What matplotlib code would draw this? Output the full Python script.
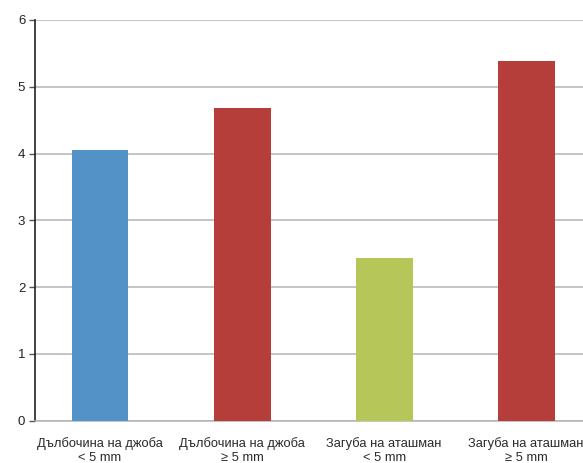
import matplotlib
matplotlib.use("Agg")
import matplotlib.pyplot as plt

categories = [
    "Дълбочина на джоба\n< 5 mm",
    "Дълбочина на джоба\n≥ 5 mm",
    "Загуба на аташман\n< 5 mm",
    "Загуба на аташман\n≥ 5 mm",
]
values = [4.05, 4.68, 2.44, 5.38]
colors = ["#5292c6", "#b53e3b", "#b6c659", "#b53e3b"]
yticks = [0, 1, 2, 3, 4, 5, 6]

plt.rcParams["font.family"] = ["Liberation Sans", "DejaVu Sans"]

W, H = 583, 463
fig = plt.figure(figsize=(W / 100, H / 100), dpi=100)
ax = fig.add_axes([35 / W, 42.3 / H, (W - 35) / W, (420.7 - 20) / H])

x = list(range(len(categories)))
ax.bar(x, values, width=0.40, color=colors, zorder=3)

ax.set_ylim(0, 6)
ax.set_xlim(-0.458, 3.40)
ax.set_yticks(yticks)
ax.set_yticklabels([str(t) for t in yticks], fontsize=9.5, color="#222222")
ax.yaxis.grid(True, color="#b4b4b4", linewidth=1.1, zorder=0)
ax.set_axisbelow(True)

ax.set_xticks(x)
ax.set_xticklabels(categories, fontsize=9.3, color="#2a2a2a", linespacing=1.2)
ax.tick_params(axis="x", length=0, pad=12)
ax.tick_params(axis="y", length=4, width=1, color="#555555", pad=3)

for side in ("top", "right"):
    ax.spines[side].set_visible(False)
ax.spines["left"].set_color("#222222")
ax.spines["left"].set_linewidth(1.2)
ax.spines["bottom"].set_color("#b4b4b4")
ax.spines["bottom"].set_linewidth(1.1)

fig.savefig("out.png", dpi=100)
